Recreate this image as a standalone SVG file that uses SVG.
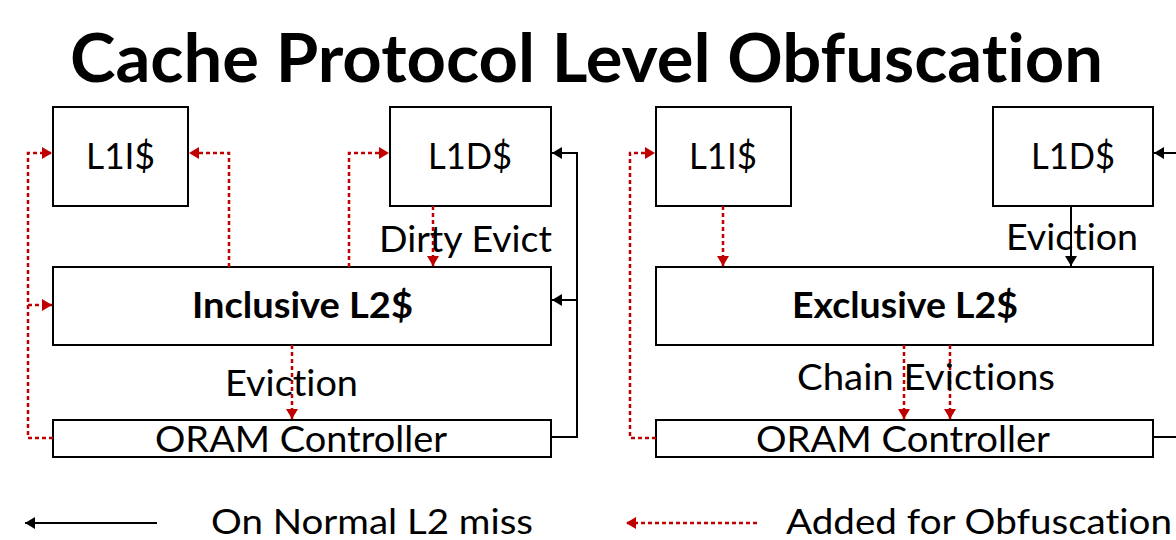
<svg xmlns="http://www.w3.org/2000/svg" width="1176" height="540" viewBox="0 0 1176 540">
  <style>
    text { font-family: Lato, "Open Sans", "Liberation Sans", sans-serif; fill: #000; font-variant-ligatures: none; font-feature-settings: "liga" 0, "clig" 0; }
    .title { font-size: 66px; font-weight: bold; }
    .lbl { font-size: 36px; }
    .leg { font-size: 34px; }
    .bold { font-size: 36px; font-weight: bold; }
    .box { fill: #fff; stroke: #000; stroke-width: 2; }
    .solid { fill: none; stroke: #000; stroke-width: 2; }
    .obf { fill: none; stroke: #c00000; stroke-width: 2.5; stroke-dasharray: 4 3; }
  </style>
  <defs>
    <marker id="headRed" markerUnits="userSpaceOnUse" markerWidth="11" markerHeight="13" refX="10" refY="6" orient="auto">
      <path d="M0,0 L10,6 L0,12 Z" fill="#c00000"/>
    </marker>
    <marker id="headBlack" markerUnits="userSpaceOnUse" markerWidth="11" markerHeight="13" refX="10" refY="6" orient="auto">
      <path d="M0,0 L10,6 L0,12 Z" fill="#000"/>
    </marker>
  </defs>

  <text class="title" x="70" y="82" textLength="1033" lengthAdjust="spacingAndGlyphs">Cache Protocol Level Obfuscation</text>

  <!-- inclusive hierarchy -->
  <g id="inc-l1i">
    <rect class="box" x="53" y="107" width="135" height="99"/>
    <text class="lbl" x="86" y="169" textLength="69" lengthAdjust="spacingAndGlyphs">L1I$</text>
  </g>
  <g id="inc-l1d">
    <rect class="box" x="390" y="107" width="161" height="99"/>
    <text class="lbl" x="428" y="169" textLength="84" lengthAdjust="spacingAndGlyphs">L1D$</text>
  </g>
  <g id="inc-l2">
    <rect class="box" x="53" y="267" width="498" height="78"/>
    <text class="bold" x="192" y="318" textLength="221" lengthAdjust="spacingAndGlyphs">Inclusive L2$</text>
  </g>
  <g id="inc-oram">
    <rect class="box" x="53" y="420" width="498" height="37"/>
    <text class="lbl" x="155" y="452" textLength="292" lengthAdjust="spacingAndGlyphs">ORAM Controller</text>
  </g>

  <!-- exclusive hierarchy -->
  <g id="exc-l1i">
    <rect class="box" x="656" y="107" width="135" height="99"/>
    <text class="lbl" x="689" y="169" textLength="68" lengthAdjust="spacingAndGlyphs">L1I$</text>
  </g>
  <g id="exc-l1d">
    <rect class="box" x="993" y="107" width="160" height="99"/>
    <text class="lbl" x="1031" y="169" textLength="84" lengthAdjust="spacingAndGlyphs">L1D$</text>
  </g>
  <g id="exc-l2">
    <rect class="box" x="656" y="267" width="497" height="78"/>
    <text class="bold" x="792" y="318" textLength="226" lengthAdjust="spacingAndGlyphs">Exclusive L2$</text>
  </g>
  <g id="exc-oram">
    <rect class="box" x="656" y="420" width="497" height="37"/>
    <text class="lbl" x="756" y="452" textLength="294" lengthAdjust="spacingAndGlyphs">ORAM Controller</text>
  </g>

  <g id="connectors">
    <!-- normal miss path (inclusive) -->
    <path class="solid" d="M551,437 H577 V153 H552" marker-end="url(#headBlack)"/>
    <path class="solid" d="M577,300 H552" marker-end="url(#headBlack)"/>
    <!-- obfuscation paths (inclusive) -->
    <path class="obf" d="M53,438 H28 V153 H52" marker-end="url(#headRed)"/>
    <path class="obf" d="M28,305 H52" marker-end="url(#headRed)"/>
    <path class="obf" d="M229,267 V153 H189" marker-end="url(#headRed)"/>
    <path class="obf" d="M349,267 V153 H389" marker-end="url(#headRed)"/>
    <path class="obf" d="M433,206 V266" marker-end="url(#headRed)"/>
    <path class="obf" d="M292,345 V419" marker-end="url(#headRed)"/>

    <!-- normal miss path (exclusive) -->
    <path class="solid" d="M1176,153 H1154" marker-end="url(#headBlack)"/>
    <path class="solid" d="M1071,206 V266" marker-end="url(#headBlack)"/>
    <path class="solid" d="M1153,437 H1176"/>
    <!-- obfuscation paths (exclusive) -->
    <path class="obf" d="M656,438 H630 V153 H655" marker-end="url(#headRed)"/>
    <path class="obf" d="M723,206 V266" marker-end="url(#headRed)"/>
    <path class="obf" d="M904,345 V419" marker-end="url(#headRed)"/>
    <path class="obf" d="M950,345 V419" marker-end="url(#headRed)"/>

    <!-- legend -->
    <path class="solid" d="M157,523 H25" marker-end="url(#headBlack)"/>
    <path class="obf" d="M757,523 H626" marker-end="url(#headRed)"/>
  </g>

  <!-- connector labels -->
  <text class="lbl" x="379" y="252" textLength="173" lengthAdjust="spacingAndGlyphs">Dirty Evict</text>
  <text class="lbl" x="225" y="396" textLength="133" lengthAdjust="spacingAndGlyphs">Eviction</text>
  <text class="lbl" x="1006" y="250" textLength="132" lengthAdjust="spacingAndGlyphs">Eviction</text>
  <text class="lbl" x="797" y="390" textLength="258" lengthAdjust="spacingAndGlyphs">Chain Evictions</text>

  <!-- legend labels -->
  <text class="leg" x="211" y="534" textLength="322" lengthAdjust="spacingAndGlyphs">On Normal L2 miss</text>
  <text class="leg" x="786" y="534" textLength="386" lengthAdjust="spacingAndGlyphs">Added for Obfuscation</text>
</svg>
